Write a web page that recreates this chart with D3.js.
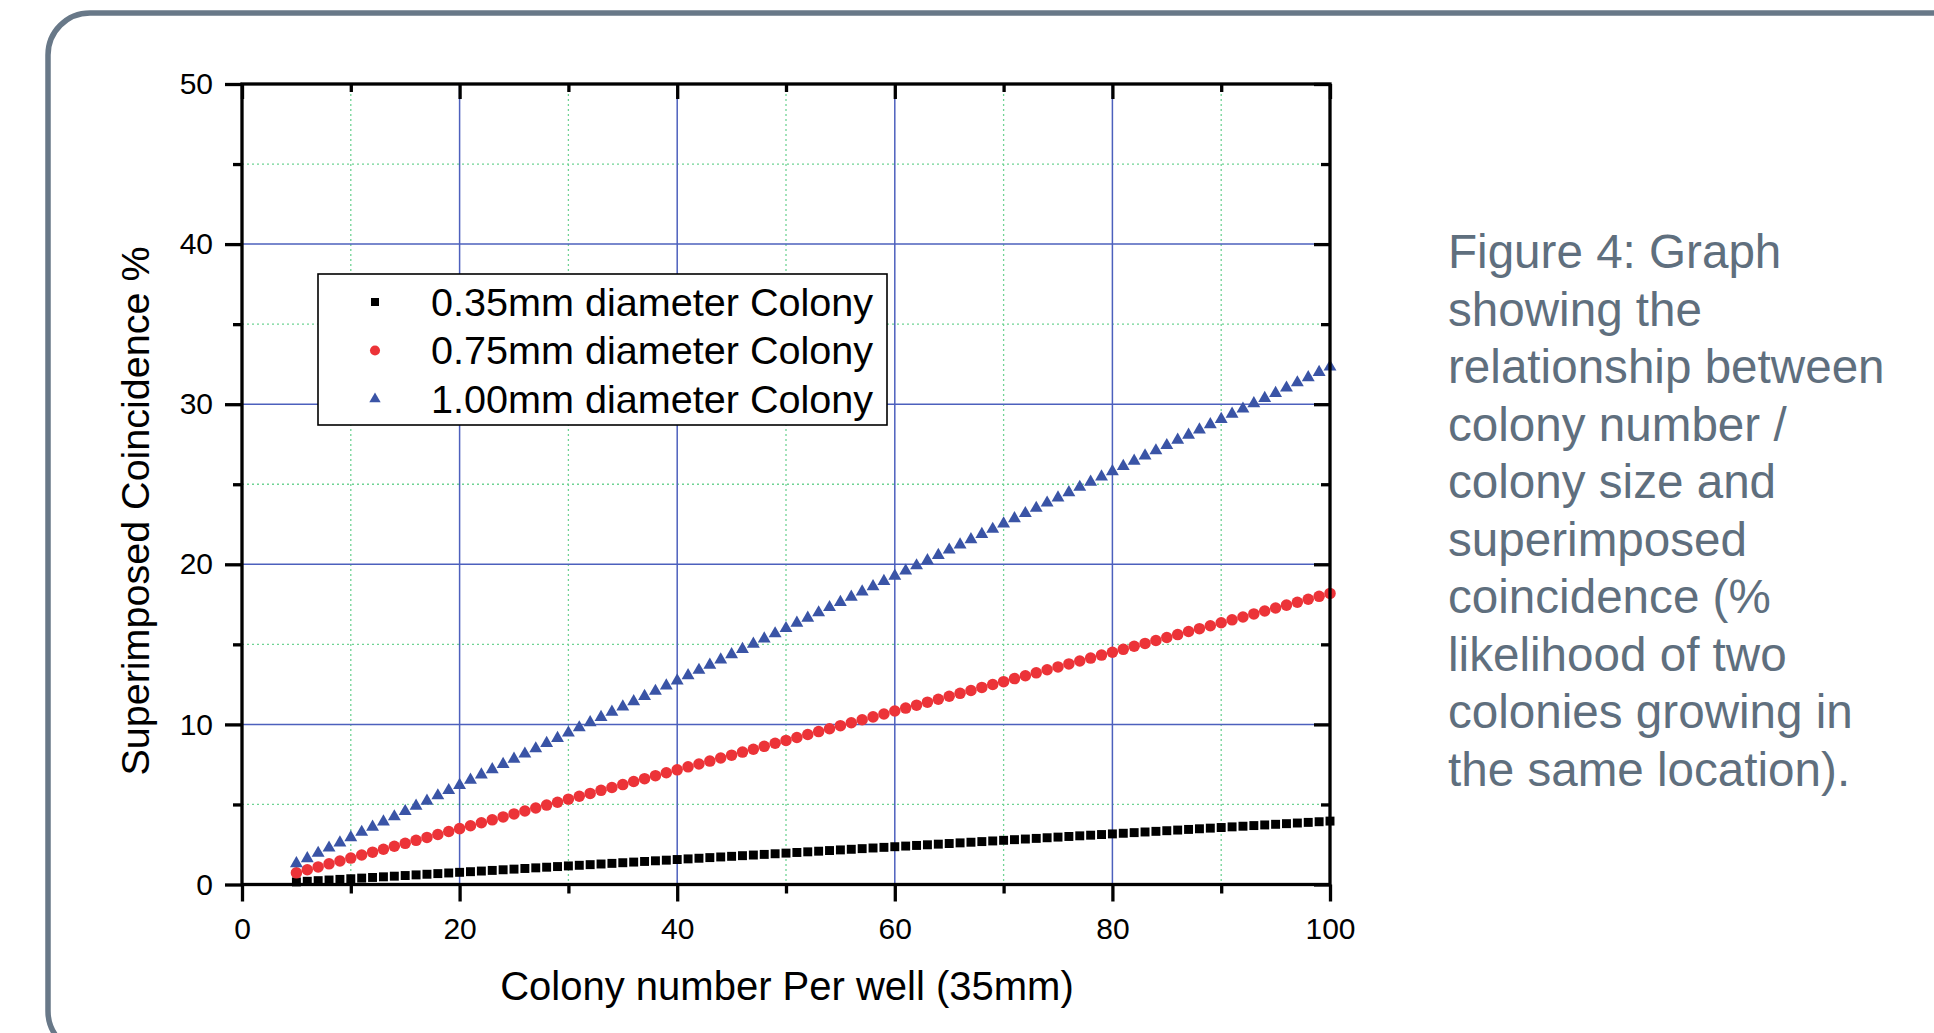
<!DOCTYPE html>
<html>
<head>
<meta charset="utf-8">
<script src="https://cdn.jsdelivr.net/npm/d3@7"></script>
<style>
  body { margin: 0; background: #fff; }
  text { font-family: "Liberation Sans", Arial, sans-serif; }
</style>
</head>
<body>
<svg width="1934" height="1033"></svg>
<script>
// colony count per well (x) and superimposed coincidence % for each colony size
const counts = [5,6,7,8,9,10,11,12,13,14,15,16,17,18,19,20,21,22,23,24,25,26,27,28,29,30,
  31,32,33,34,35,36,37,38,39,40,41,42,43,44,45,46,47,48,49,50,51,52,53,54,55,56,57,58,59,60,
  61,62,63,64,65,66,67,68,69,70,71,72,73,74,75,76,77,78,79,80,81,82,83,84,85,86,87,88,89,90,
  91,92,93,94,95,96,97,98,99,100]

const colony035 = [0.16,0.20,0.24,0.28,0.32,0.36,0.40,0.44,0.48,0.52,
  0.56,0.60,0.64,0.68,0.72,0.76,0.80,0.84,0.88,0.92,
  0.96,1.00,1.04,1.08,1.12,1.16,1.20,1.24,1.28,1.32,
  1.36,1.40,1.44,1.48,1.52,1.56,1.60,1.64,1.68,1.72,
  1.76,1.80,1.84,1.88,1.92,1.96,2.00,2.04,2.08,2.12,
  2.16,2.20,2.24,2.28,2.32,2.36,2.40,2.44,2.48,2.52,
  2.56,2.60,2.64,2.68,2.72,2.76,2.80,2.84,2.88,2.92,
  2.96,3.00,3.04,3.08,3.12,3.16,3.20,3.24,3.28,3.32,
  3.36,3.40,3.44,3.48,3.52,3.56,3.60,3.64,3.68,3.72,
  3.76,3.80,3.84,3.88,3.92,3.96]

const colony075 = [0.73,0.92,1.10,1.29,1.47,1.65,1.84,2.02,2.20,2.39,
  2.57,2.76,2.94,3.12,3.31,3.49,3.67,3.86,4.04,4.22,
  4.41,4.59,4.78,4.96,5.14,5.33,5.51,5.69,5.88,6.06,
  6.24,6.43,6.61,6.80,6.98,7.16,7.35,7.53,7.71,7.90,
  8.08,8.27,8.45,8.63,8.82,9.00,9.18,9.37,9.55,9.73,
  9.92,10.10,10.29,10.47,10.65,10.84,11.02,11.20,11.39,11.57,
  11.76,11.94,12.12,12.31,12.49,12.67,12.86,13.04,13.22,13.41,
  13.59,13.78,13.96,14.14,14.33,14.51,14.69,14.88,15.06,15.24,
  15.43,15.61,15.80,15.98,16.16,16.35,16.53,16.71,16.90,17.08,
  17.27,17.45,17.63,17.82,18.00,18.18]

const colony100 = [1.31,1.63,1.96,2.29,2.61,2.94,3.27,3.59,3.92,4.24,
  4.57,4.90,5.22,5.55,5.88,6.20,6.53,6.86,7.18,7.51,
  7.84,8.16,8.49,8.82,9.14,9.47,9.80,10.12,10.45,10.78,
  11.10,11.43,11.76,12.08,12.41,12.73,13.06,13.39,13.71,14.04,
  14.37,14.69,15.02,15.35,15.67,16.00,16.33,16.65,16.98,17.31,
  17.63,17.96,18.29,18.61,18.94,19.27,19.59,19.92,20.24,20.57,
  20.90,21.22,21.55,21.88,22.20,22.53,22.86,23.18,23.51,23.84,
  24.16,24.49,24.82,25.14,25.47,25.80,26.12,26.45,26.78,27.10,
  27.43,27.76,28.08,28.41,28.73,29.06,29.39,29.71,30.04,30.37,
  30.69,31.02,31.35,31.67,32.00,32.33]

const seriesNames = ["0.35mm diameter Colony", "0.75mm diameter Colony", "1.00mm diameter Colony"]
const xMajor = [0, 20, 40, 60, 80, 100]
const xMinor = [10, 30, 50, 70, 90]
const yMajor = [0, 10, 20, 30, 40, 50]
const yMinor = [5, 15, 25, 35, 45]
const captionLines = ["Figure 4: Graph", "showing the", "relationship between", "colony number /",
  "colony size and", "superimposed", "coincidence (%", "likelihood of two",
  "colonies growing in", "the same location)."]

const svg = d3.select("svg")
const plotLeft = 242, plotRight = 1330, plotTop = 84, plotBottom = 884.5
const w = plotRight - plotLeft, h = plotBottom - plotTop

// rounded panel border
svg.append("rect")
  .attr("x", 48).attr("y", 13)
  .attr("width", 2000).attr("height", 1040)
  .attr("rx", 42)
  .attr("fill", "none")
  .attr("stroke", "#687888")
  .attr("stroke-width", 5.5)

const x = d3.scaleLinear().domain([0, 100]).range([0, w])
const y = d3.scaleLinear().domain([0, 50]).range([h, 0])

const g = svg.append("g").attr("transform", `translate(${plotLeft}, ${plotTop})`)

// minor grid (green dotted)
g.append("g").selectAll("line").data(xMinor).join("line")
  .attr("x1", d => x(d)).attr("x2", d => x(d)).attr("y1", 0).attr("y2", h)
  .attr("stroke", "#6fd394").attr("stroke-width", 1.3).attr("stroke-dasharray", "2,3")
g.append("g").selectAll("line").data(yMinor).join("line")
  .attr("y1", d => y(d)).attr("y2", d => y(d)).attr("x1", 0).attr("x2", w)
  .attr("stroke", "#6fd394").attr("stroke-width", 1.3).attr("stroke-dasharray", "2,3")

// major grid (blue)
g.append("g").selectAll("line").data(xMajor.slice(1, -1)).join("line")
  .attr("x1", d => x(d)).attr("x2", d => x(d)).attr("y1", 0).attr("y2", h)
  .attr("stroke", "#4d60bd").attr("stroke-width", 1.5)
g.append("g").selectAll("line").data(yMajor.slice(1, -1)).join("line")
  .attr("y1", d => y(d)).attr("y2", d => y(d)).attr("x1", 0).attr("x2", w)
  .attr("stroke", "#4d60bd").attr("stroke-width", 1.5)

// markers
const series = [
  { values: colony035, symbol: d3.symbolSquare, size: 80, color: "#000000" },
  { values: colony075, symbol: d3.symbolCircle, size: 104, color: "#ec3338" },
  { values: colony100, symbol: d3.symbolTriangle, size: 72, color: "#3a54a6" }
]

series.forEach(s => {
  g.append("g").selectAll("path").data(counts).join("path")
    .attr("d", d3.symbol().type(s.symbol).size(s.size))
    .attr("transform", (d, i) => `translate(${x(d)}, ${y(s.values[i])})`)
    .attr("fill", s.color)
})

// frame
g.append("rect")
  .attr("width", w).attr("height", h)
  .attr("fill", "none").attr("stroke", "#000").attr("stroke-width", 3.3)

const styleAxis = sel => {
  sel.select(".domain").remove()
  sel.selectAll(".tick line").attr("stroke", "#000").attr("stroke-width", 3.3)
  sel.selectAll("text").attr("fill", "#000").attr("font-size", 30)
    .attr("font-family", "Liberation Sans, Arial, sans-serif")
}

// bottom axis
g.append("g").attr("transform", `translate(0, ${h})`)
  .call(d3.axisBottom(x).tickValues(xMajor).tickSize(17).tickPadding(16))
  .call(styleAxis)
g.append("g").attr("transform", `translate(0, ${h})`)
  .call(d3.axisBottom(x).tickValues(xMinor).tickSize(9).tickFormat(""))
  .call(styleAxis)

// left axis
g.append("g")
  .call(d3.axisLeft(y).tickValues(yMajor).tickSize(17).tickPadding(12))
  .call(styleAxis)
g.append("g")
  .call(d3.axisLeft(y).tickValues(yMinor).tickSize(9).tickFormat(""))
  .call(styleAxis)

// top and right axes, ticks pointing in
g.append("g")
  .call(d3.axisTop(x).tickValues(xMajor).tickSize(-15).tickFormat(""))
  .call(styleAxis)
g.append("g")
  .call(d3.axisTop(x).tickValues(xMinor).tickSize(-8).tickFormat(""))
  .call(styleAxis)
g.append("g").attr("transform", `translate(${w}, 0)`)
  .call(d3.axisRight(y).tickValues(yMajor).tickSize(-16).tickFormat(""))
  .call(styleAxis)
g.append("g").attr("transform", `translate(${w}, 0)`)
  .call(d3.axisRight(y).tickValues(yMinor).tickSize(-9).tickFormat(""))
  .call(styleAxis)

// axis titles
svg.append("text")
  .attr("x", plotLeft + w / 2 + 1).attr("y", 1000)
  .attr("text-anchor", "middle")
  .attr("font-size", 40)
  .text("Colony number Per well (35mm)")

svg.append("text")
  .attr("transform", "translate(149, 511) rotate(-90)")
  .attr("text-anchor", "middle")
  .attr("font-size", 39.5)
  .text("Superimposed Coincidence %")

// legend
const legend = svg.append("g").attr("transform", "translate(318, 274)")
legend.append("rect")
  .attr("width", 569).attr("height", 151)
  .attr("fill", "#fff").attr("stroke", "#000").attr("stroke-width", 1.6)

const legendSizes = [64, 80, 56]
seriesNames.forEach((name, i) => {
  const row = legend.append("g").attr("transform", `translate(0, ${28 + i * 48.5})`)
  row.append("path")
    .attr("d", d3.symbol().type(series[i].symbol).size(legendSizes[i]))
    .attr("transform", "translate(57, 0)")
    .attr("fill", series[i].color)
  row.append("text")
    .attr("x", 113).attr("dy", "0.35em")
    .attr("font-size", 39.6)
    .text(name)
})

// caption
svg.append("g").selectAll("text").data(captionLines).join("text")
  .attr("x", 1448)
  .attr("y", (d, i) => 268 + i * 57.5)
  .attr("font-size", 47.6)
  .attr("fill", "#5f6f7e")
  .text(d => d)
</script>
</body>
</html>
